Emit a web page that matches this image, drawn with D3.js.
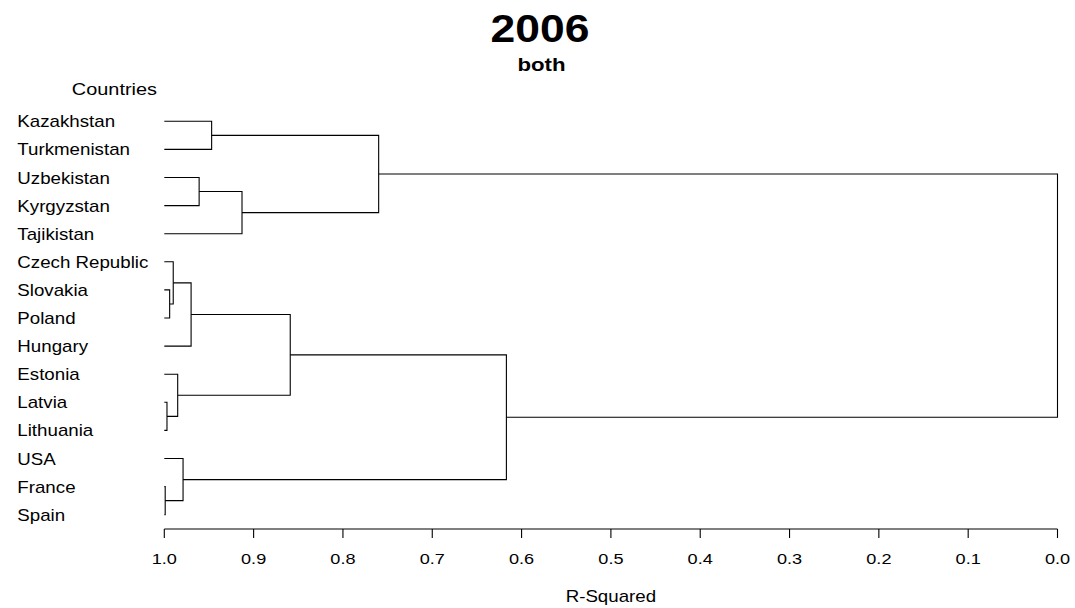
<!DOCTYPE html>
<head>
    <meta charset="utf-8"/>
    <script src="https://d3js.org/d3.v7.min.js"></script>
    <style>
        body { margin: 0; background: #fff; }
        text { font-family: "Liberation Sans", Arial, sans-serif; fill: #000; }
    </style>
</head>
<body>
<script>
    // leaves in plotting order
    var countries = ["Kazakhstan", "Turkmenistan", "Uzbekistan", "Kyrgyzstan", "Tajikistan",
        "Czech Republic", "Slovakia", "Poland", "Hungary", "Estonia", "Latvia", "Lithuania",
        "USA", "France", "Spain"];

    // merges like R hclust: negative = leaf index (1-based), positive = earlier merge
    var mergeLeft  = [-1, -3, 2, 1, -7, -6, 6, -11, -10, 7, -14, -13, 10, 4];
    var mergeRight = [-2, -4, -5, 3, -8, 5, -9, -12, 8, 9, -15, 11, 12, 13];
    var mergeHeight = [0.947, 0.961, 0.913, 0.760, 0.994, 0.990, 0.970, 0.997, 0.985, 0.859, 0.999, 0.979, 0.617, 0.0];

    var xTicks = [1.0, 0.9, 0.8, 0.7, 0.6, 0.5, 0.4, 0.3, 0.2, 0.1, 0.0];

    var width = 1075, height = 608;
    var stretch = 1.17;

    var svg = d3.select("body").append("svg")
        .attr("width", width)
        .attr("height", height);

    // build a nested tree from the merge table
    function node(i) {
        if (i < 0) return {name: countries[-i - 1], h: 1.0};
        var k = i - 1;
        return {h: mergeHeight[k], children: [node(mergeLeft[k]), node(mergeRight[k])]};
    }
    var root = d3.hierarchy(node(mergeHeight.length));

    var x = d3.scaleLinear().domain([1, 0]).range([164.3, 1057.5]);
    var y = d3.scalePoint().domain(root.leaves().map(function (d) { return d.data.name; }))
        .range([121.3, 514.7]);

    root.eachAfter(function (d) {
        d.px = x(d.data.h);
        d.py = d.children ? d3.mean(d.children, function (c) { return c.py; }) : y(d.data.name);
    });

    var lines = svg.append("g")
        .attr("fill", "none")
        .attr("stroke", "#000")
        .attr("stroke-width", 1.1);

    root.each(function (d) {
        if (!d.children) return;
        var a = d.children[0], b = d.children[1];
        lines.append("path")
            .attr("d", "M" + a.px + "," + a.py + "H" + d.px + "V" + b.py + "H" + b.px);
    });

    function stext(g, tx, ty, str, size, anchor, weight) {
        return g.append("text")
            .attr("transform", "translate(" + tx + "," + ty + ") scale(" + stretch + ",1)")
            .attr("text-anchor", anchor)
            .attr("font-size", size)
            .attr("font-weight", weight || "normal")
            .text(str);
    }

    // leaf labels
    root.leaves().forEach(function (d) {
        stext(svg, 17.3, d.py + 6, d.data.name, 16, "start");
    });

    stext(svg, 114.4, 95, "Countries", 17, "middle");

    // titles
    stext(svg, 540, 42, "2006", 38, "middle", "bold");
    stext(svg, 541.5, 70.5, "both", 19, "middle", "bold");

    // x axis
    var axis = svg.append("g");
    axis.append("line")
        .attr("x1", x(1)).attr("x2", x(0))
        .attr("y1", 529).attr("y2", 529)
        .attr("stroke", "#000").attr("stroke-width", 1.1);
    xTicks.forEach(function (t) {
        axis.append("line")
            .attr("x1", x(t)).attr("x2", x(t))
            .attr("y1", 529).attr("y2", 538)
            .attr("stroke", "#000").attr("stroke-width", 1.1);
        stext(axis, x(t), 564, d3.format(".1f")(t), 15.5, "middle");
    });

    stext(svg, (x(1) + x(0)) / 2, 602, "R-Squared", 16, "middle");
</script>
</body>
